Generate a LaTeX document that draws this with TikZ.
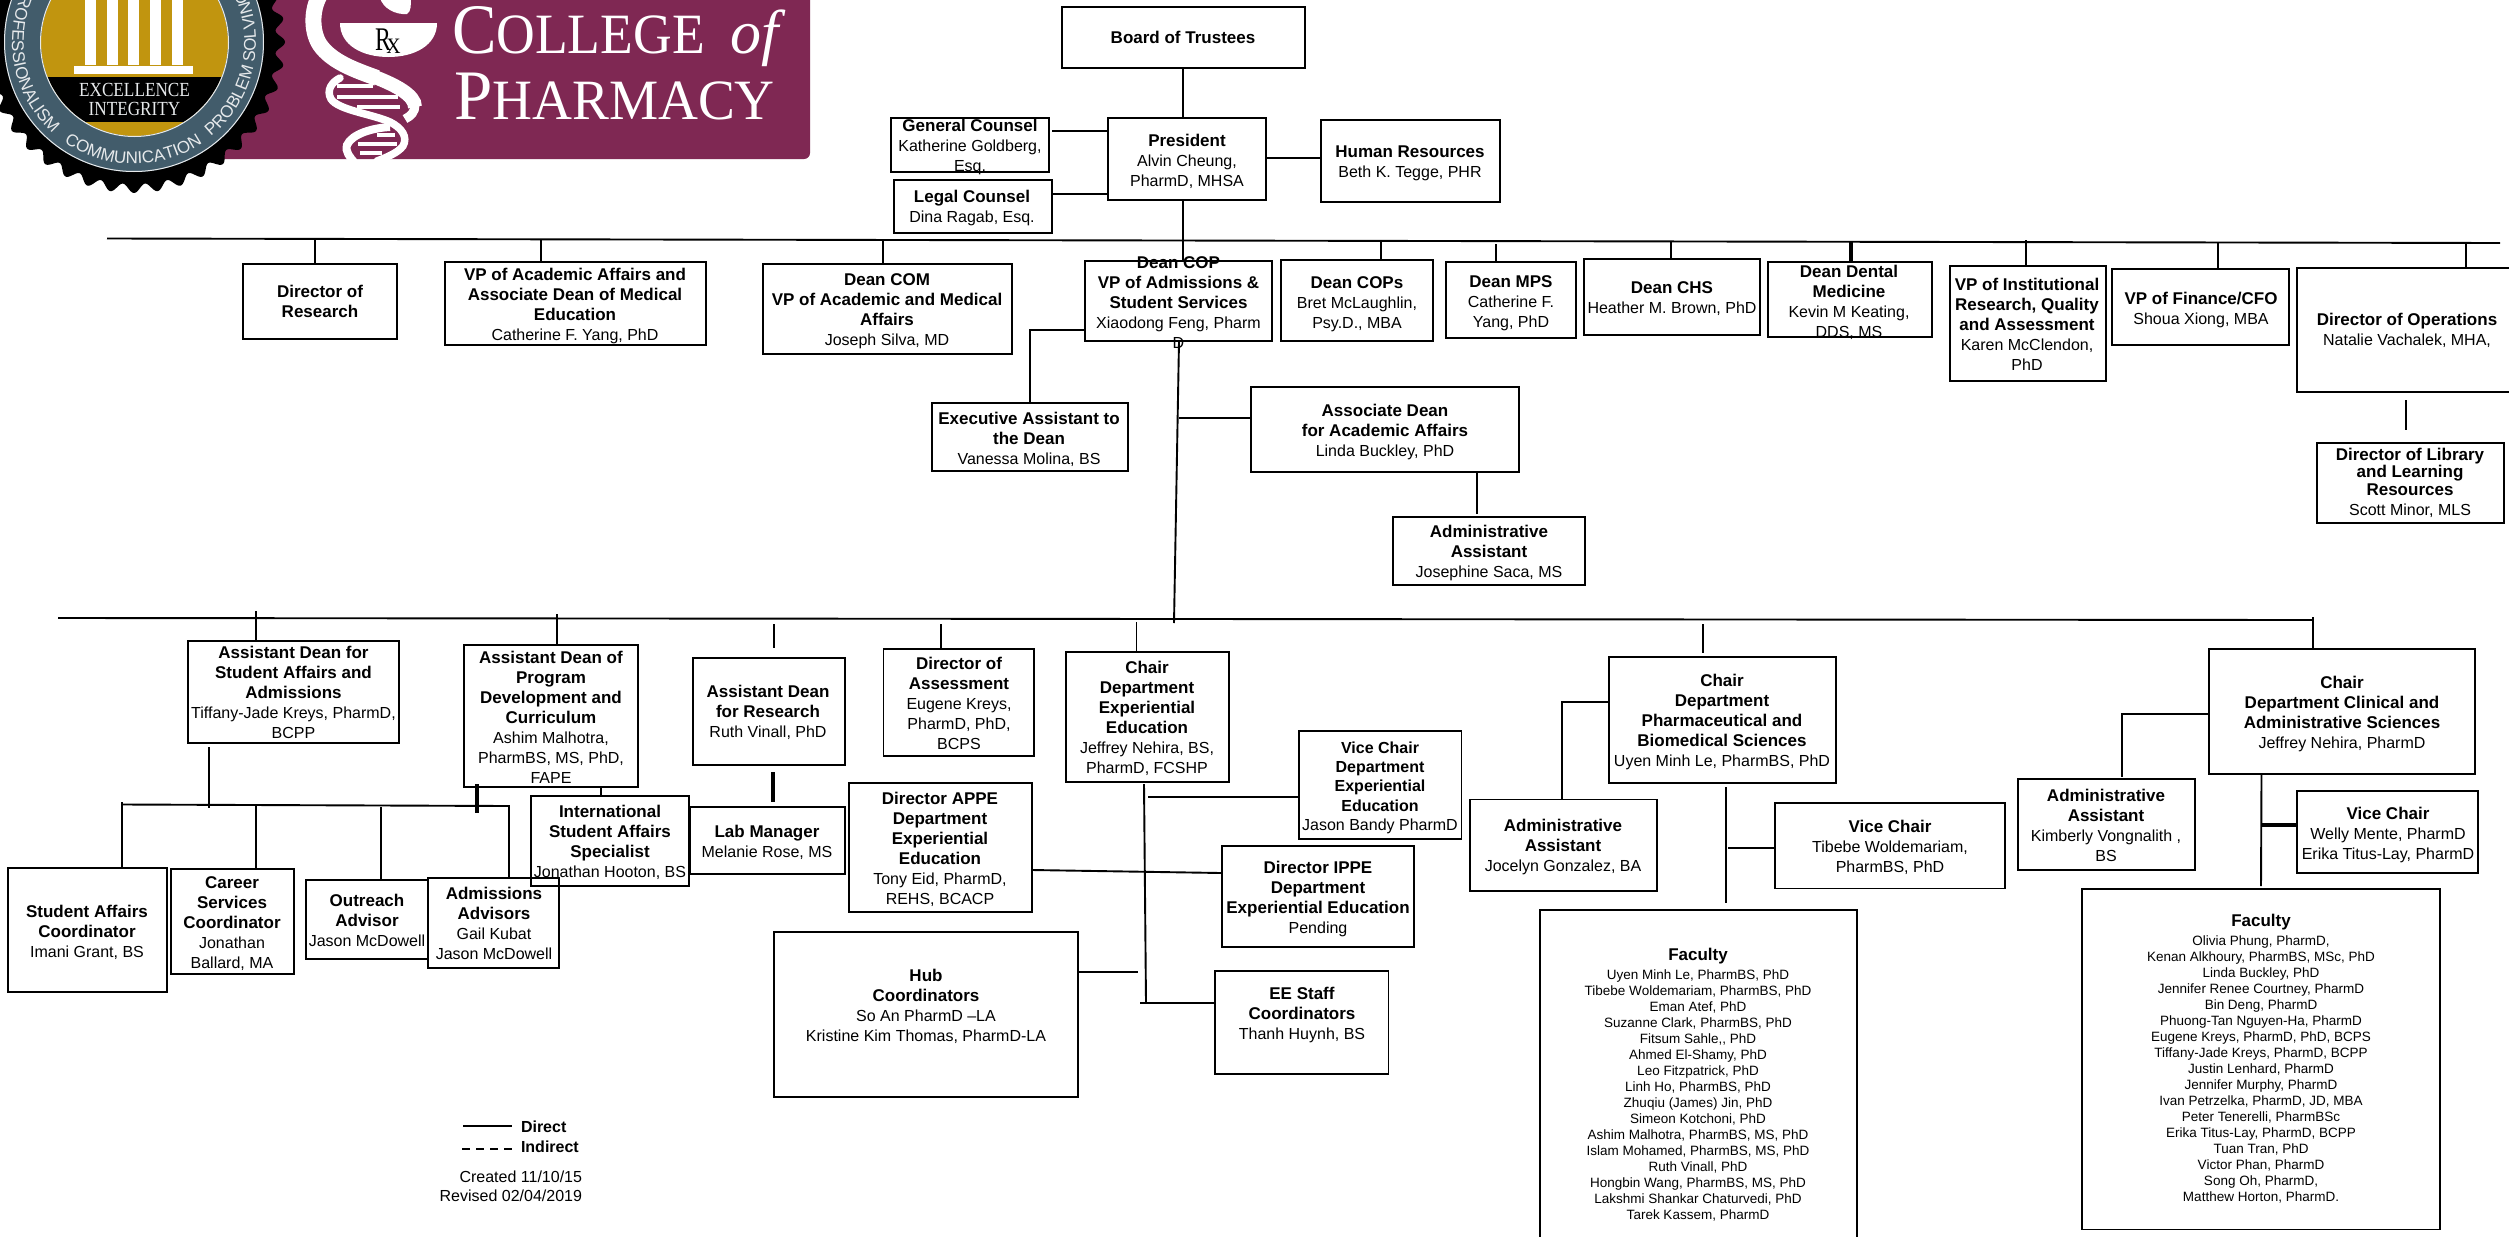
\documentclass[tikz,border=0pt]{standalone}
\usepackage{fontspec}
\setmainfont{Liberation Sans}
\newfontfamily\lsf{Liberation Serif}
\usetikzlibrary{decorations.text}
\definecolor{maroonc}{HTML}{7F2853}
\definecolor{ringc}{HTML}{425C6B}
\definecolor{goldc}{HTML}{C1950F}
\definecolor{ringt}{HTML}{E6E9EB}
\tikzset{
  x=1pt,y=-1pt,
  boxst/.style={draw=black,line width=1.9pt,inner sep=0pt,outer sep=0pt,anchor=center},
  conn/.style={draw=black,line width=1.9pt},
  thick conn/.style={draw=black,line width=3.6pt},
  thin conn/.style={draw=black,line width=1.4pt},
  plain text/.style={inner sep=0pt,outer sep=0pt}
}
\newcommand\fb{\fontsize{16}{20}\selectfont\def\tc{6}}
\newcommand\fc{\fontsize{16}{19.3}\selectfont\def\tc{5.9}}
\newcommand\fd{\fontsize{13.5}{16.05}\selectfont\def\tc{5}}
\newcommand\Bo[1]{{\fontsize{17}{20}\selectfont\textbf{#1}}}
\newcommand\Bs[1]{\textbf{#1}}
\newcommand\Ft[1]{{\fontsize{17}{16}\selectfont\textbf{#1}}}
% box: [font]{name}{x1}{y1}{x2}{y2}{text cx}{text cy}{lines}
\newcommand\Bx[8][\fb]{%
  \begingroup #1%
  \pgfmathsetmacro\bw{#5-#3}\pgfmathsetmacro\bh{#6-#4}%
  \pgfmathsetmacro\bcx{(#3+#5)/2}\pgfmathsetmacro\bcy{(#4+#6)/2}%
  \pgfmathsetmacro\bdy{\bcy-#8-\tc}\pgfmathsetmacro\bdx{#7-\bcx}%
  \node[boxst,minimum width=\bw pt,minimum height=\bh pt] (#2) at (\bcx,\bcy)
   {#1\kern\bdx pt\makebox[0pt]{\raisebox{\bdy pt}[0pt][0pt]{\begin{tabular}[c]{@{}c@{}}\BxText\end{tabular}}}\kern-\bdx pt};%
  \endgroup}
\newcommand\BxT[9][\fb]{\def\BxText{#9}\Bx[#1]{#2}{#3}{#4}{#5}{#6}{#7}{#8}}
% vertical connector at x from a free coordinate to a node's edge
\newcommand\VN[5][conn]{\coordinate (#2) at (#3,#4);\draw[#1] (#2) -- (#2 |- #5);}
% horizontal connector at y from a free coordinate to a node's edge
\newcommand\HN[5][conn]{\coordinate (#2) at (#3,#4);\draw[#1] (#2) -- (#2 -| #5);}
% vertical connector at x between two nodes
\newcommand\NN[5][conn]{\coordinate (#2) at (#3,0);\draw[#1] (#2 |- #4) -- (#2 |- #5);}
% horizontal connector at y between two nodes
\newcommand\NH[5][conn]{\coordinate (#2) at (0,#3);\draw[#1] (#2 -| #4) -- (#2 -| #5);}
% free segment between named coordinates
\newcommand\Cn[6][conn]{\coordinate (#2a) at (#3,#4);\coordinate (#2b) at (#5,#6);\draw[#1] (#2a) -- (#2b);}
\begin{document}
\begin{tikzpicture}
\useasboundingbox (0,0) rectangle (2509,1237);
\clip (0,0) rectangle (2509,1237);
\fill[white] (0,0) rectangle (2509,1237);
% ---- banner
\fill[maroonc,rounded corners=6pt] (180,-20) rectangle (810,159);
% ---- seal
\fill[black] plot[domain=0:360,samples=640] ({134+(146.5+4.5*cos(40*\x))*cos(\x)},{42+(146.5+4.5*cos(40*\x))*sin(\x)}) -- cycle;
\fill[ringc] (134,42) circle[radius=130];
\draw[ringt,line width=1pt] (134,42) circle[radius=129.5];
\fill[goldc] (134.5,42.5) circle[radius=93.5];
\begin{scope}
\clip (134.5,42.5) circle[radius=93.5];
\fill[black] (0,77) rectangle (300,122);
\end{scope}
\draw[ringt,line width=1pt] (134.5,42.5) circle[radius=94];
\foreach \cx in {85,107,128,150,172} \fill[white] (\cx,-2) rectangle ++(11,67);
\fill[white] (74,66) rectangle (193,74);
\node[plain text,text=ringt,xscale=.86] (sealA) at (134.5,90) {\lsf\fontsize{20}{20}\selectfont EXCELLENCE};
\node[plain text,text=ringt,xscale=.86] (sealB) at (134.5,108.5) {\lsf\fontsize{20}{20}\selectfont INTEGRITY};
\path[decorate,decoration={text along path,text color=ringt,text align={fit to path},text={|\fontsize{17}{17}\selectfont|COMMUNICATION}}]
  plot[domain=125:57,samples=50] ({134+122*cos(\x)},{42+122*sin(\x)});
\path[decorate,decoration={text along path,text color=ringt,text align={fit to path},text={|\fontsize{17}{17}\selectfont|PROFESSIONALISM}}]
  plot[domain=208:134,samples=50] ({134+122*cos(\x)},{42+122*sin(\x)});
\path[decorate,decoration={text along path,text color=ringt,text align={fit to path},text={|\fontsize{17}{17}\selectfont|PROBLEM SOLVING}}]
  plot[domain=51:-23,samples=50] ({134+122*cos(\x)},{42+122*sin(\x)});
% ---- bowl, snake, helix
\begin{scope}
\clip (180,-20) rectangle (810,159);
\fill[white] (340,23) -- (437,23) .. controls (437,45) and (415,57) .. (388.5,57) .. controls (362,57) and (340,45) .. (340,23) -- cycle;
\fill[white] (380,-2) .. controls (383,8) and (395,15) .. (407,14) .. controls (411,12) and (411,5) .. (411,-2) -- cycle;
\draw[white,line width=16pt] (322,-8) .. controls (312,5) and (310,30) .. (320,45) .. controls (332,62) and (355,70) .. (377,78);
\draw[white,line width=14pt] (376,77.5) .. controls (395,85) and (415,95) .. (415,107);
\draw[white,line width=9pt] (415,105) .. controls (415,112) and (411,116) .. (405,119);
\draw[white,line width=7.5pt,line cap=round] (340,78) .. controls (332,82) and (326,90) .. (331,99) .. controls (338,110) and (372,114) .. (390,122) .. controls (402,128) and (408,137) .. (403,146) .. controls (398,153) and (385,158) .. (377,161);
\draw[white,line width=8pt] (390,127) .. controls (372,128) and (352,134) .. (347,145) .. controls (345,152) and (350,157) .. (354,162);
\foreach \ya/\xa/\xb in {86/337/373,97/337/398,107/357/400,135/377/395,144/358/397,153/360/382}
  \fill[white] (\xa,\ya-1.8) rectangle (\xb,\ya+1.8);
\end{scope}
\node[plain text,xscale=.72,anchor=base] (rxR) at (383,50) {\lsf\fontsize{33}{33}\selectfont R};
\node[plain text,xscale=.9,anchor=base] (rxX) at (393.5,53) {\lsf\fontsize{22}{22}\selectfont X};
\node[plain text,text=white,xscale=.94,anchor=base west] (logoA) at (452,53.5) {\lsf{\fontsize{71}{71}\selectfont C}{\fontsize{57}{57}\selectfont OLLEGE}};
\node[plain text,text=white,anchor=base west] (logoOf) at (730,53.5) {\lsf\itshape\fontsize{62}{62}\selectfont of};
\node[plain text,text=white,xscale=.97,anchor=base west] (logoB) at (454,119) {\lsf{\fontsize{71}{71}\selectfont P}{\fontsize{57}{57}\selectfont HARMACY}};
% ---- top tier
\BxT{board}{1062}{7}{1305}{68}{1183}{38}{\Bo{Board of Trustees}}
\BxT{pres}{1108}{118}{1266}{200}{1187}{161}{\Bo{President}\\Alvin Cheung,\\PharmD, MHSA}
\BxT{gc}{891}{118}{1049}{172}{970}{146}{\Bo{General Counsel}\\Katherine Goldberg,\\Esq.}
\BxT{legal}{894}{180}{1052}{233}{972}{207}{\Bo{Legal Counsel}\\Dina Ragab, Esq.}
\BxT{hr}{1321}{120}{1500}{202}{1410}{162}{\Bo{Human Resources}\\Beth K. Tegge, PHR}
\BxT{dres}{243}{264}{397}{339}{320}{302}{\Bo{Director of}\\\Bo{Research}}
\BxT{vpaa}{445}{262}{706}{345}{575}{305}{\Bo{VP of Academic Affairs and}\\\Bo{Associate Dean of Medical}\\\Bo{Education}\\Catherine F. Yang, PhD}
\BxT{dcom}{763}{264}{1012}{354}{887}{309.5}{\Bo{Dean COM}\\\Bo{VP of Academic and Medical}\\\Bo{Affairs}\\Joseph Silva, MD}
\BxT{dcop}{1085}{261}{1272}{341}{1178.5}{302.5}{\Bo{Dean COP}\\\Bo{VP of Admissions \&}\\\Bo{Student Services}\\Xiaodong Feng, Pharm\\D}
\BxT{dcops}{1281}{260}{1433}{341}{1357}{303}{\Bo{Dean COPs}\\Bret McLaughlin,\\Psy.D., MBA}
\BxT{dmps}{1446}{262}{1576}{338}{1511}{302}{\Bo{Dean MPS}\\Catherine F.\\Yang, PhD}
\BxT{dchs}{1584}{259}{1760}{335}{1672}{298}{\Bo{Dean CHS}\\Heather M. Brown, PhD}
\BxT{dent}{1768}{262}{1932}{337}{1849}{301.5}{\Bo{Dean Dental}\\\Bo{Medicine}\\Kevin M Keating,\\DDS, MS}
\BxT{vpir}{1950}{266}{2106}{381}{2027}{325}{\Bo{VP of Institutional}\\\Bo{Research, Quality}\\\Bo{and Assessment}\\Karen McClendon,\\PhD}
\BxT{vpfin}{2112}{269}{2289}{345}{2201}{309}{\Bo{VP of Finance/CFO}\\Shoua Xiong, MBA}
\BxT{ops}{2297}{268}{2530}{392}{2407}{330}{\Bo{Director of Operations}\\Natalie Vachalek, MHA,}
\BxT{lib}{2317}{443}{2504}{523}{2410}{482}{\Bo{Director of Library}\\[-2.5pt]\Bo{and Learning}\\[-2.5pt]\Bo{Resources}\\Scott Minor, MLS}
\BxT{exec}{932}{403}{1128}{471}{1029}{439}{\Bo{Executive Assistant to}\\\Bo{the Dean}\\Vanessa Molina, BS}
\BxT{assoc}{1251}{387}{1519}{472}{1385}{431}{\Bo{Associate Dean}\\\Bo{for Academic Affairs}\\Linda Buckley, PhD}
\BxT{admA}{1393}{517}{1585}{585}{1489}{552}{\Bo{Administrative}\\\Bo{Assistant}\\Josephine Saca, MS}
% ---- lower tier
\BxT{ads}{188}{641}{399}{743}{293.5}{693}{\Bo{Assistant Dean for}\\\Bo{Student Affairs and}\\\Bo{Admissions}\\Tiffany-Jade Kreys, PharmD,\\BCPP}
\BxT{adp}{464}{645}{638}{787}{551}{717.5}{\Bo{Assistant Dean of}\\\Bo{Program}\\\Bo{Development and}\\\Bo{Curriculum}\\Ashim Malhotra,\\PharmBS, MS, PhD,\\FAPE}
\BxT{adr}{693}{658}{845}{765}{768}{712}{\Bo{Assistant Dean}\\\Bo{for Research}\\Ruth Vinall, PhD}
\BxT{lab}{690}{807}{845}{874}{767}{842}{\Bo{Lab Manager}\\Melanie Rose, MS}
\BxT{intl}{531}{796}{689}{886}{610}{842}{\Bo{International}\\\Bo{Student Affairs}\\\Bo{Specialist}\\Jonathan Hooton, BS}
\BxT{sac}{8}{868}{167}{992}{87}{932}{\Bo{Student Affairs}\\\Bo{Coordinator}\\Imani Grant, BS}
\BxT{csc}{171}{869}{294}{974}{232}{922.5}{\Bo{Career}\\\Bo{Services}\\\Bo{Coordinator}\\Jonathan\\Ballard, MA}
\BxT{oa}{306}{880}{428}{959}{367}{921}{\Bo{Outreach}\\\Bo{Advisor}\\Jason McDowell}
\BxT{aa}{428}{878}{559}{968}{494}{924}{\Bo{Admissions}\\\Bo{Advisors}\\Gail Kubat\\Jason McDowell}
\BxT{assess}{883.5}{649}{1034}{756}{959}{704}{\Bo{Director of}\\\Bo{Assessment}\\Eugene Kreys,\\PharmD, PhD,\\BCPS}
\BxT{chee}{1066}{652}{1229}{782}{1147}{718}{\Bo{Chair}\\\Bo{Department}\\\Bo{Experiential}\\\Bo{Education}\\Jeffrey Nehira, BS,\\PharmD, FCSHP}
\BxT[\fc]{vcee}{1299}{731}{1461.5}{839}{1380}{786.5}{\Bs{Vice Chair}\\\Bs{Department}\\\Bs{Experiential}\\\Bs{Education}\\Jason Bandy PharmD}
\BxT{appe}{849}{783}{1032}{912}{940}{849}{\Bo{Director APPE}\\\Bo{Department}\\\Bo{Experiential}\\\Bo{Education}\\Tony Eid, PharmD,\\REHS, BCACP}
\BxT{ippe}{1222}{846}{1414}{947}{1318}{898}{\Bo{Director IPPE}\\\Bo{Department}\\\Bo{Experiential Education}\\Pending}
\BxT{ees}{1215}{971}{1388.5}{1074}{1302}{1014}{\Bo{EE Staff}\\\Bo{Coordinators}\\Thanh Huynh, BS}
\BxT{hub}{774}{932}{1078}{1097}{926}{1006}{\Bo{Hub}\\\Bo{Coordinators}\\So An PharmD –LA\\Kristine Kim Thomas, PharmD-LA}
\BxT{pbs}{1609}{657}{1836}{783}{1722}{721}{\Bo{Chair}\\\Bo{Department}\\\Bo{Pharmaceutical and}\\\Bo{Biomedical Sciences}\\Uyen Minh Le, PharmBS, PhD}
\BxT{adg}{1470}{799.5}{1657}{891}{1563}{846}{\Bo{Administrative}\\\Bo{Assistant}\\Jocelyn Gonzalez, BA}
\BxT{vcp}{1775}{803}{2005}{888.5}{1890}{847}{\Bo{Vice Chair}\\Tibebe Woldemariam,\\PharmBS, PhD}
\BxT[\fd]{facA}{1540}{910}{1857}{1270}{1698}{1085}{\Ft{Faculty}\\[2.5pt]Uyen Minh Le, PharmBS, PhD\\Tibebe Woldemariam, PharmBS, PhD\\Eman Atef, PhD\\Suzanne Clark, PharmBS, PhD\\Fitsum Sahle{,}{,} PhD\\Ahmed El-Shamy, PhD\\Leo Fitzpatrick, PhD\\Linh Ho, PharmBS, PhD\\Zhuqiu (James) Jin, PhD\\Simeon Kotchoni, PhD\\Ashim Malhotra, PharmBS, MS, PhD\\Islam Mohamed, PharmBS, MS, PhD\\Ruth Vinall, PhD\\Hongbin Wang, PharmBS, MS, PhD\\Lakshmi Shankar Chaturvedi, PhD\\Tarek Kassem, PharmD}
\BxT{cas}{2209}{649}{2475}{774}{2342}{712.5}{\Bo{Chair}\\\Bo{Department Clinical and}\\\Bo{Administrative Sciences}\\Jeffrey Nehira, PharmD}
\BxT{adk}{2018}{779}{2195}{870}{2106}{826}{\Bo{Administrative}\\\Bo{Assistant}\\Kimberly Vongnalith ,\\BS}
\BxT{vcc}{2297}{791}{2478}{873}{2388}{834}{\Bo{Vice Chair}\\Welly Mente, PharmD\\Erika Titus-Lay, PharmD}
\BxT[\fd]{facB}{2082}{889}{2440}{1229.5}{2261}{1059}{\Ft{Faculty}\\[2.5pt]Olivia Phung, PharmD,\\Kenan Alkhoury, PharmBS, MSc, PhD\\Linda Buckley, PhD\\Jennifer Renee Courtney, PharmD\\Bin Deng, PharmD\\Phuong-Tan Nguyen-Ha, PharmD\\Eugene Kreys, PharmD, PhD, BCPS\\Tiffany-Jade Kreys, PharmD, BCPP\\Justin Lenhard, PharmD\\Jennifer Murphy, PharmD\\Ivan Petrzelka, PharmD, JD, MBA\\Peter Tenerelli, PharmBSc\\Erika Titus-Lay, PharmD, BCPP\\Tuan Tran, PhD\\Victor Phan, PharmD\\Song Oh, PharmD,\\Matthew Horton, PharmD.}
% ---- connectors, top
\NN{n1}{1183}{board.south}{pres.north}
\HN{n2}{1052}{131}{pres.west}
\HN{n3}{1053}{194}{pres.west}
\NH{n4}{158}{pres.east}{hr.west}
\NN{n5}{1183}{pres.south}{dcop.north}
\Cn{bus}{107}{238.5}{2500}{243}
\VN{d1}{315}{240}{dres.north}
\VN{d2}{541}{240}{vpaa.north}
\VN{d3}{883}{239}{dcom.north}
\VN{d4}{1381}{241}{dcops.north}
\VN{d5}{1496}{244}{dmps.north}
\VN{d6}{1671}{241}{dchs.north}
\VN[thick conn]{d7}{1851}{242}{dent.north}
\VN{d8}{2026}{240}{vpir.north}
\VN{d9}{2218}{243}{vpfin.north}
\VN{d10}{2466}{243}{ops.north}
\Cn{lb}{2406}{400}{2406}{430}
\coordinate (ex) at (1030,330);
\draw[conn] (ex -| dcop.west) -- (ex) -- (ex |- exec.north);
\coordinate (copA) at (1179,341);
\coordinate (copB) at (1174,623);
\draw[conn] (copA) -- (copB);
\HN{as}{1179}{418}{assoc.west}
\VN{aa2}{1477}{514}{assoc.south}
% ---- connectors, lower
\Cn{busb}{58}{618}{2313}{620}
\VN{t1}{256}{611}{ads.north}
\VN{t2}{557}{614}{adp.north}
\Cn{t3}{774}{624}{774}{648}
\VN{t4}{941}{624}{assess.north}
\VN{t5}{1136.5}{622}{chee.north}
\Cn{t6}{1703}{624}{1703}{653}
\VN{t7}{2313}{617}{cas.north}
\Cn{s1}{209}{747}{209}{808}
\Cn[thick conn]{s2}{477}{784}{477}{813}
\NN[thin conn]{s3}{601}{adp.south}{intl.north}
\Cn[thick conn]{s4}{773}{772}{773}{802}
\coordinate (hA) at (122,804.5);
\coordinate (hB) at (509,806);
\draw[conn] (hA) -- (hB) -- (hB |- aa.north);
\VN{s5}{122}{802}{sac.north}
\VN{s6}{256}{805}{csc.north}
\VN{s7}{381}{807}{oa.north}
\coordinate (eeA) at (1144,784);
\coordinate (eeB) at (1146,1003);
\draw[conn] (eeA) -- (eeB);
\HN{e1}{1148}{797}{vcee.west}
\coordinate (apL) at (1032,870);
\coordinate (apR) at (1221,873);
\draw[conn] (apL) -- (apR);
\HN{e2}{1140}{1003}{ees.west}
\Cn{e3}{1078}{972}{1138}{972}
\coordinate (pbL) at (1562,702);
\draw[conn] (pbL -| pbs.west) -- (pbL) -- (pbL |- adg.north);
\Cn{e4}{1726}{787}{1726}{903}
\HN{e5}{1728}{848}{vcp.west}
\coordinate (caL) at (2122,714);
\draw[conn] (caL -| cas.west) -- (caL) -- (2122,777);
\Cn{e6}{2261.5}{774}{2261}{886}
\HN[thick conn]{e7}{2262}{825}{vcc.west}
% ---- legend
\node[plain text,anchor=west] (lgDirect) at (521,1127) {\fontsize{16}{19}\selectfont\textbf{Direct}};
\node[plain text,anchor=west] (lgIndirect) at (521,1147) {\fontsize{16}{19}\selectfont\textbf{Indirect}};
\Cn{lg}{463}{1126}{512}{1126}
\coordinate (lgdA) at (462,1149);
\coordinate (lgdB) at (513,1149);
\draw[conn,dash pattern=on 8pt off 6pt] (lgdA) -- (lgdB);
\node[plain text,anchor=east,align=right,font=\fontsize{16}{19}\selectfont] (dates) at (582,1186.5) {Created 11/10/15\\Revised 02/04/2019};
\end{tikzpicture}
\end{document}
